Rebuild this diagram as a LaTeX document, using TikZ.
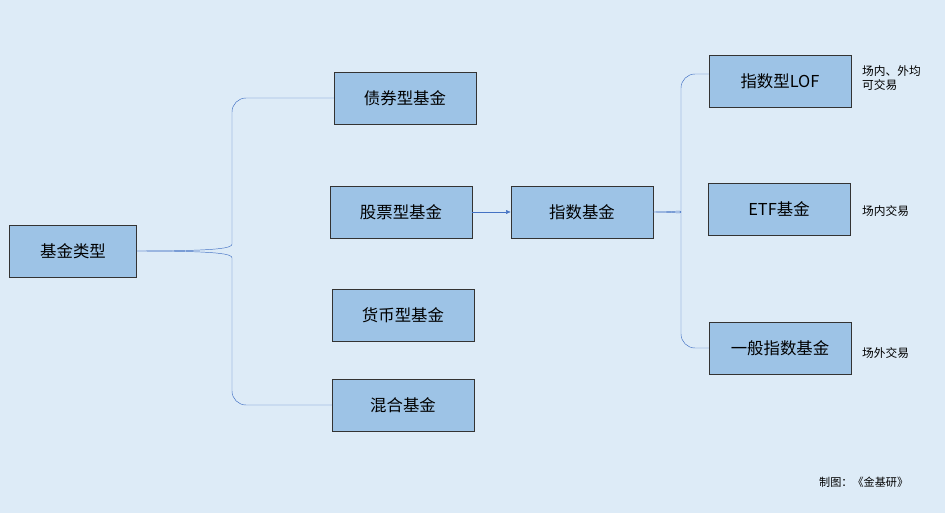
\documentclass[tikz,border=0pt]{standalone}
\usepackage{fontspec}
\setmainfont{Noto Sans CJK SC}
\usetikzlibrary{arrows.meta}
\definecolor{bg}{HTML}{DDEBF7}
\definecolor{boxfill}{HTML}{9DC3E6}
\definecolor{linkblue}{HTML}{4472C4}
\tikzset{
    fund box/.style={draw=black!80, fill=boxfill, minimum width=142*0.03cm,
        minimum height=52*0.03cm, inner sep=0pt, font=\fontsize{14}{16}\selectfont},
    note text/.style={align=left, anchor=west, font=\fontsize{10}{12.5}\selectfont},
    link line/.style={draw=linkblue, rounded corners=12pt}
}
\begin{document}
\begin{tikzpicture}[x=0.03cm, y=-0.03cm]
    % background
    \fill[bg] (0,0) rectangle (945,513);
    \useasboundingbox (0,0) rectangle (945,513);

    % boxes
    \node[fund box, minimum width=127*0.03cm] (type) at (73,251) {基金类型};
    \node[fund box] (bond)  at (405,98)  {债券型基金};
    \node[fund box] (stock) at (401,212) {股票型基金};
    \node[fund box] (money) at (403,315) {货币型基金};
    \node[fund box] (mixed) at (403,405) {混合基金};
    \node[fund box] (index) at (582,212) {指数基金};
    \node[fund box] (lof)   at (780,81)  {指数型LOF};
    \node[fund box] (etf)   at (779,209) {ETF基金};
    \node[fund box] (plain) at (780,348) {一般指数基金};

    % notes
    \node[note text] (lofnote)   at (858,78)  {场内、外均\\可交易};
    \node[note text] (etfnote)   at (858,211) {场内交易};
    \node[note text] (plainnote) at (858,353) {场外交易};
    \node[anchor=west, font=\fontsize{9.5}{11}\selectfont] (credit) at (815,482) {制图：《金基研》};

    % connecting lines
    \draw[link line] (type.east) .. controls (220,251) and (232,248) .. (232,230) -- (232,98) -- (bond.west);
    \draw[link line] (type.east) .. controls (220,251) and (232,254) .. (232,272) -- (232,405) -- (mixed.west);
    \draw[linkblue, -{Latex[length=4pt,width=3.5pt]}] (stock) -- (index);
    \draw[link line] (index.east) .. controls (675,212) and (681,210) .. (681,198) -- (681,74) -- (lof.west |- 0,74);
    \draw[link line] (index.east) .. controls (675,212) and (681,214) .. (681,226) -- (681,348) -- (plain.west);
\end{tikzpicture}
\end{document}
